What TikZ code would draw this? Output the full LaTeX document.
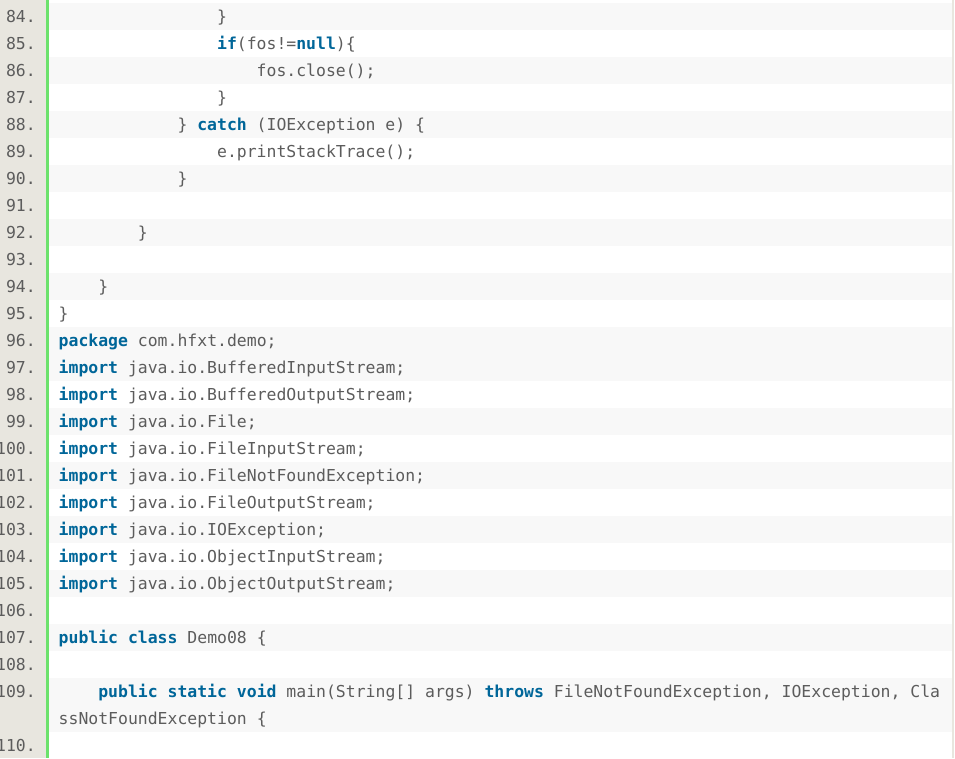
\documentclass[tikz,border=0pt]{standalone}
\usepackage{fontspec}
\newfontfamily\codefont{DejaVu Sans Mono}
\definecolor{gutterbg}{HTML}{E8E6DF}
\definecolor{barcol}{HTML}{6CE26C}
\definecolor{stripe}{HTML}{F8F8F8}
\definecolor{plain}{HTML}{5C5C5C}
\definecolor{kwblue}{HTML}{006699}
\newcommand\kwd[1]{{\bfseries\color{kwblue}#1}}
\frenchspacing
\begin{document}
\begin{tikzpicture}[x=1pt,y=-1pt,
  code/.style={anchor=base west,inner sep=0pt,text=plain,font=\codefont\fontsize{16.45}{20}\selectfont},
  num/.style={anchor=base east,inner sep=0pt,text=plain,font=\codefont\fontsize{16.45}{20}\selectfont}]
  \useasboundingbox (0,0) rectangle (955,758);
  \clip (0,0) rectangle (955,758);
  % gutter, bar and stripes
  \fill[gutterbg] (0,0) rectangle (46,758);
  \fill[barcol] (46,0) rectangle (49,758);
  \fill[gutterbg] (952,0) rectangle (953.5,758);
  \foreach \n in {84,86,...,96,97,99,...,107}
    \fill[stripe] (49,{3+27*(\n-84)}) rectangle (952,{30+27*(\n-84)});
  \fill[stripe] (49,678) rectangle (952,732);
  % line numbers
  \foreach \n in {84,...,109}
    \node[num] (n\n) at (36,{22.5+27*(\n-84)}) {\n.};
  \node[num] (n110) at (36,751.5) {110.};
  % code
  \node[code] (l84) at (216.9,22.5) {\}};
  \node[code] (l85) at (216.9,49.5) {\kwd{if}(fos!=\kwd{null})\{};
  \node[code] (l86) at (256.5,76.5) {fos.close();};
  \node[code] (l87) at (216.9,103.5) {\}};
  \node[code] (l88) at (177.3,130.5) {\} \kwd{catch} (IOException e) \{};
  \node[code] (l89) at (216.9,157.5) {e.printStackTrace();};
  \node[code] (l90) at (177.3,184.5) {\}};
  \node[code] (l92) at (137.7,238.5) {\}};
  \node[code] (l94) at (98.1,292.5) {\}};
  \node[code] (l95) at (58.5,319.5) {\}};
  \node[code] (l96) at (58.5,346.5) {\kwd{package} com.hfxt.demo;};
  \node[code] (l97) at (58.5,373.5) {\kwd{import} java.io.BufferedInputStream;};
  \node[code] (l98) at (58.5,400.5) {\kwd{import} java.io.BufferedOutputStream;};
  \node[code] (l99) at (58.5,427.5) {\kwd{import} java.io.File;};
  \node[code] (l100) at (58.5,454.5) {\kwd{import} java.io.FileInputStream;};
  \node[code] (l101) at (58.5,481.5) {\kwd{import} java.io.FileNotFoundException;};
  \node[code] (l102) at (58.5,508.5) {\kwd{import} java.io.FileOutputStream;};
  \node[code] (l103) at (58.5,535.5) {\kwd{import} java.io.IOException;};
  \node[code] (l104) at (58.5,562.5) {\kwd{import} java.io.ObjectInputStream;};
  \node[code] (l105) at (58.5,589.5) {\kwd{import} java.io.ObjectOutputStream;};
  \node[code] (l107) at (58.5,643.5) {\kwd{public} \kwd{class} Demo08 \{};
  \node[code] (l109) at (98.1,697.5) {\kwd{public} \kwd{static} \kwd{void} main(String[] args) \kwd{throws} FileNotFoundException, IOException, Cla};
  \node[code] (l109b) at (58.5,724.5) {ssNotFoundException \{};
\end{tikzpicture}
\end{document}
